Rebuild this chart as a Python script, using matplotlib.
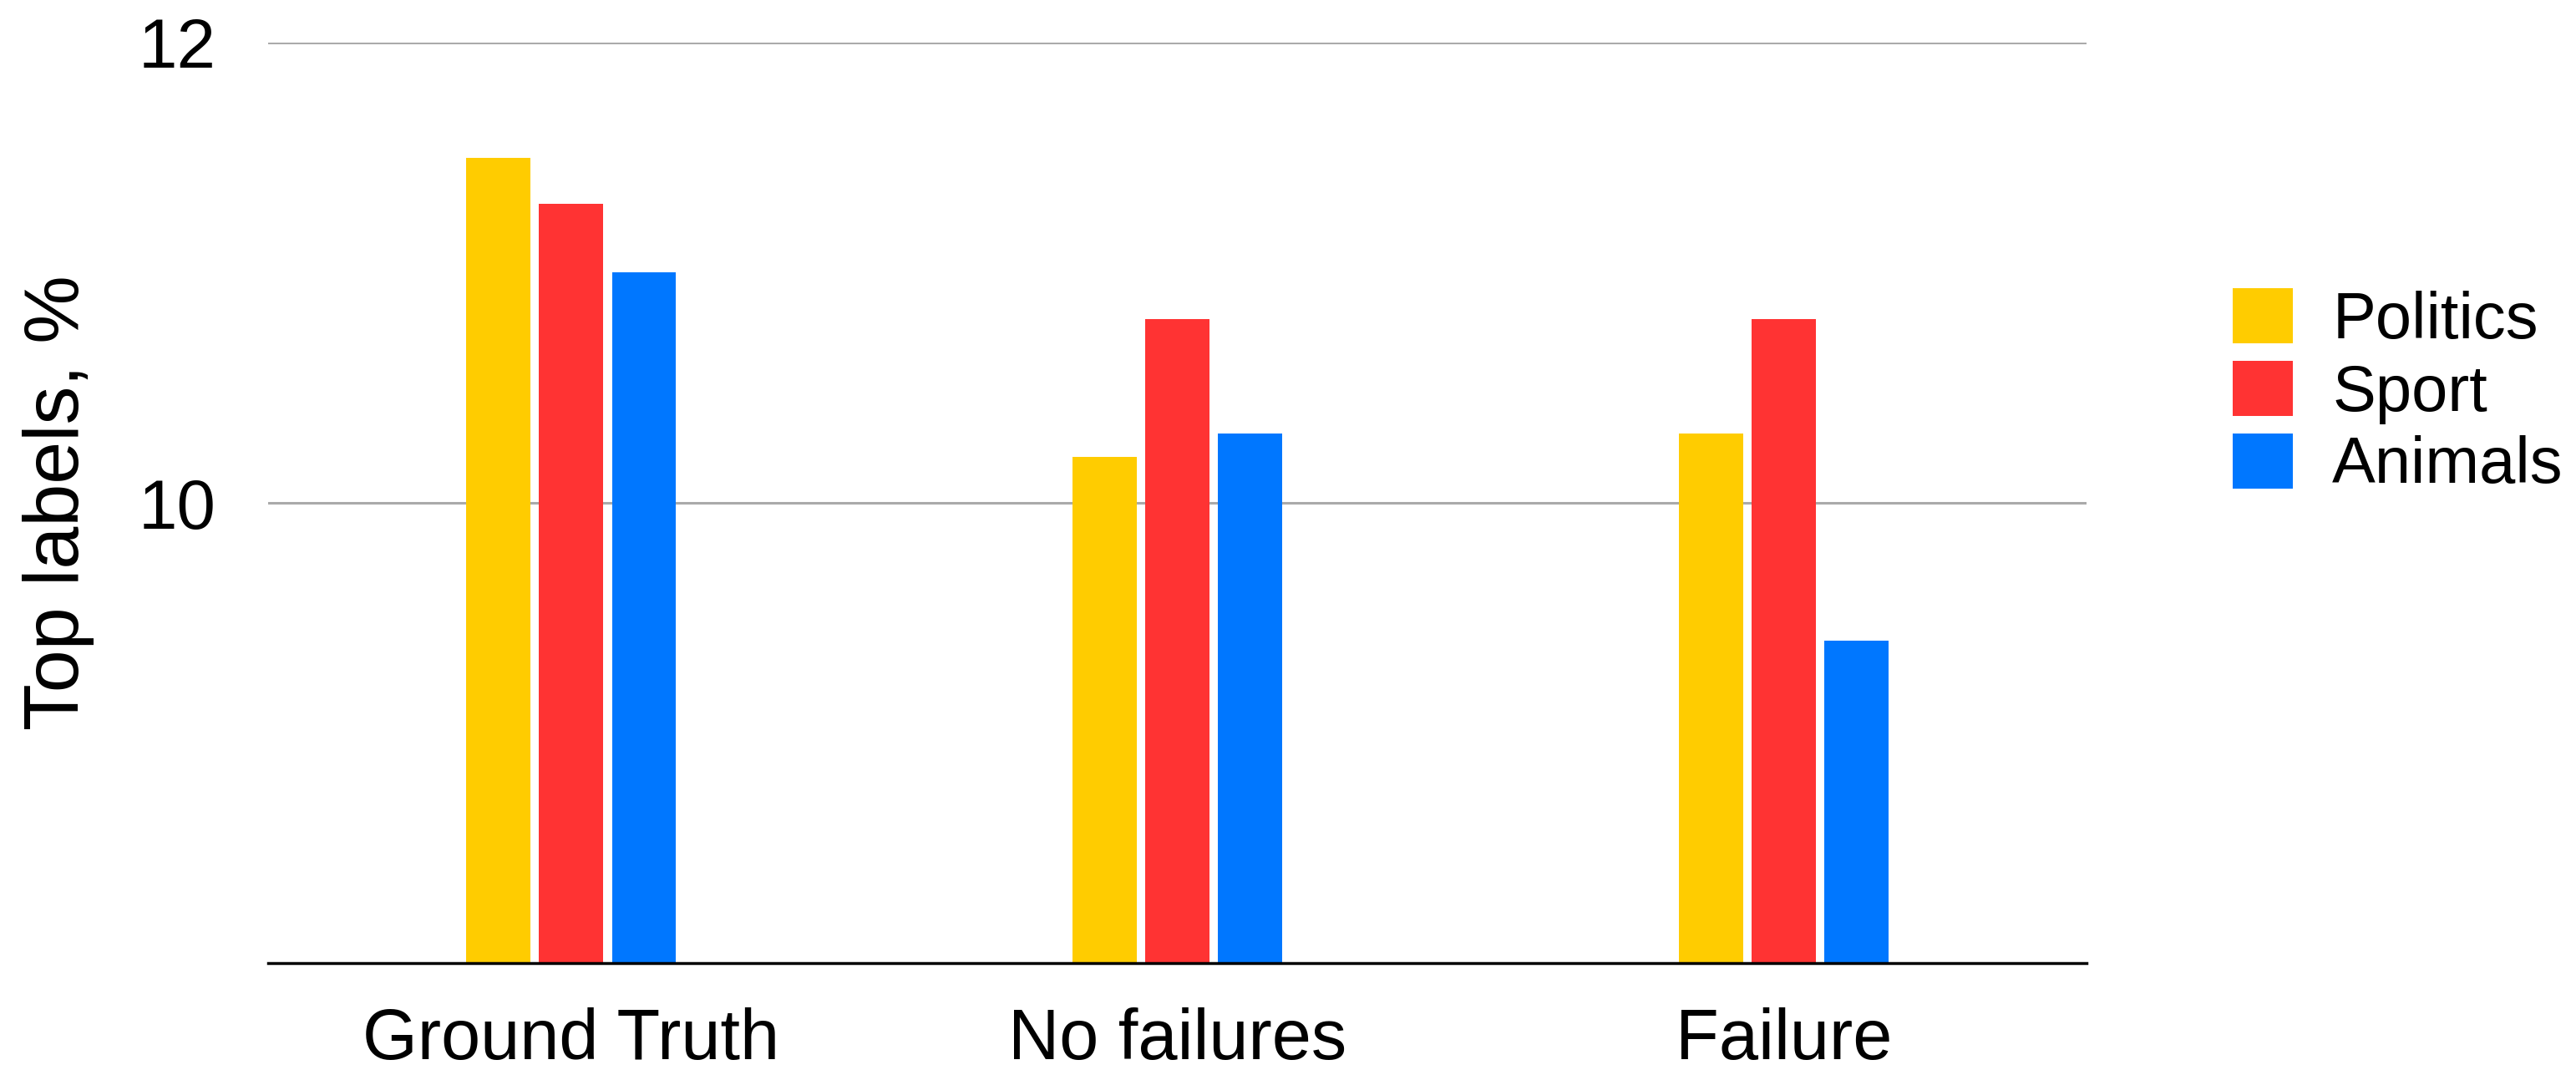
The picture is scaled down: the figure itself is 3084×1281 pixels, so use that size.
import matplotlib
matplotlib.use("Agg")
import matplotlib.pyplot as plt
import numpy as np

plt.rcParams['font.family'] = ['Liberation Sans', 'DejaVu Sans']

groups = ["Ground Truth", "No failures", "Failure"]
series = ["Politics", "Sport", "Animals"]
politics = [11.5, 10.2, 10.3]
sport = [11.3, 10.8, 10.8]
animals = [11.0, 10.3, 9.4]
colors = ["#FFCC00", "#FF3333", "#0077FF"]
yticks = [10, 12]

fig = plt.figure(figsize=(30.84, 12.81), dpi=100)
ax = fig.add_axes([0.1041, 0.0999, 0.706, 0.8603])

x = np.arange(len(groups))
step = 0.12
width = 0.106
for i, (vals, c, name) in enumerate(zip([politics, sport, animals], colors, series)):
    ax.bar(x + (i - 1) * step, np.array(vals) - 8, width=width, bottom=8,
           color=c, label=name, zorder=3)

ax.set_xlim(-0.5, 2.5)
ax.set_ylim(8, 12)
ax.set_yticks(yticks)
ax.set_yticklabels([str(t) for t in yticks])
ax.set_xticks(x)
ax.set_xticklabels(groups)
ax.tick_params(axis='x', length=0, labelsize=61, pad=38)
ax.tick_params(axis='y', length=0, labelsize=60, pad=45)
ax.grid(axis='y', color='#aaaaaa', linewidth=2.2, zorder=1)
for s in ['top', 'right', 'left']:
    ax.spines[s].set_visible(False)
ax.spines['bottom'].set_color('black')
ax.spines['bottom'].set_linewidth(2.5)
ax.spines['bottom'].set_zorder(4)

ax.set_ylabel("Top labels, %", fontsize=66, labelpad=38)

ax.legend(loc='center left', bbox_to_anchor=(1.066, 0.62), frameon=False,
          fontsize=56, handlelength=0.93, handleheight=0.93,
          handletextpad=0.6, labelspacing=0.14, borderaxespad=0)

fig.savefig("out.png", dpi=100, facecolor='white')
